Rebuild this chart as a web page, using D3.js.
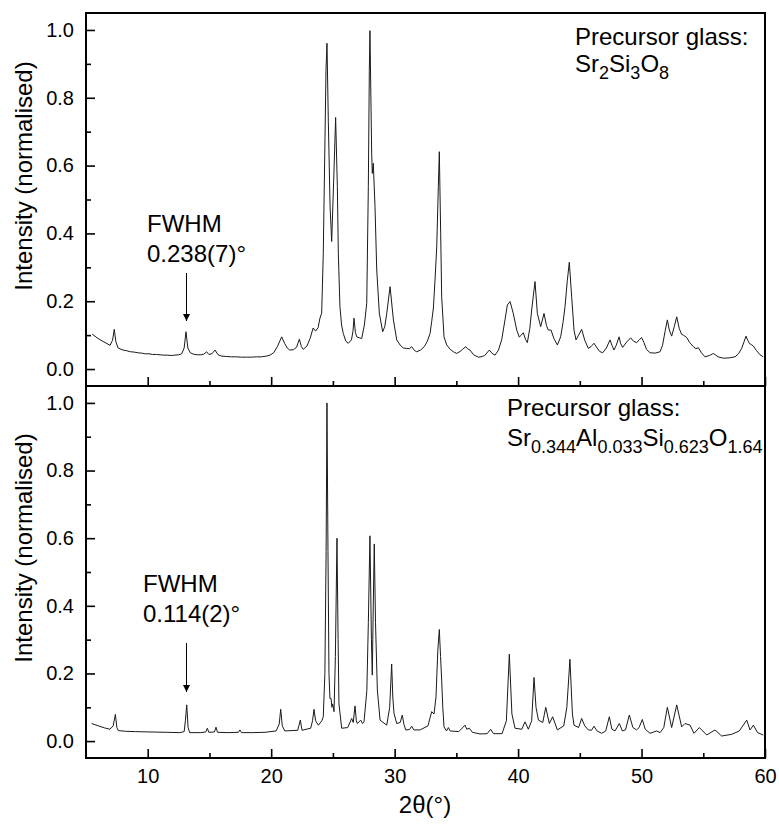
<!DOCTYPE html>
<html>
<head>
<meta charset="utf-8">
<script src="https://cdn.jsdelivr.net/npm/d3@7"></script>
<style>
  html, body { margin: 0; padding: 0; background: #fff; }
  svg { display: block; font-family: "Liberation Sans", Arial, sans-serif; }
</style>
</head>
<body>
<svg id="chart" width="779" height="830"></svg>
<script>
// Powder XRD patterns, [2θ (°), normalised intensity]
const sr2si3o8Pattern = [
  [5.5,0.103],[5.9,0.092],[6.3,0.083],[6.7,0.075],[6.95,0.070],[7.15,0.085],[7.29,0.117],[7.42,0.080],[7.6,0.062],
  [8.0,0.056],[8.3,0.054],[8.6,0.051],[8.9,0.050],[9.2,0.048],[9.5,0.047],[9.8,0.045],[10.1,0.045],[10.4,0.043],
  [10.7,0.043],[11.0,0.042],[11.3,0.041],[11.6,0.041],[11.9,0.040],[12.2,0.041],[12.5,0.042],[12.75,0.045],
  [12.95,0.062],[13.1,0.110],[13.25,0.062],[13.45,0.048],[13.7,0.044],[14.0,0.042],[14.3,0.042],[14.55,0.044],
  [14.77,0.051],[14.95,0.043],[15.2,0.045],[15.45,0.056],[15.7,0.042],[16.0,0.038],[16.4,0.037],[16.8,0.036],
  [17.2,0.036],[17.6,0.035],[18.0,0.035],[18.4,0.035],[18.8,0.036],[19.2,0.036],[19.6,0.038],[19.9,0.041],
  [20.2,0.048],[20.5,0.066],[20.85,0.095],[21.1,0.075],[21.3,0.062],[21.5,0.056],[21.8,0.057],[22.05,0.064],
  [22.28,0.088],[22.45,0.066],[22.6,0.058],[22.9,0.068],[23.15,0.090],[23.4,0.121],[23.6,0.112],[23.8,0.122],
  [23.95,0.150],[24.09,0.165],[24.22,0.34],[24.36,0.685],[24.44,0.88],[24.52,0.961],[24.63,0.73],[24.77,0.48],
  [24.9,0.376],[25.09,0.587],[25.22,0.742],[25.36,0.538],[25.44,0.34],[25.57,0.184],[25.7,0.130],[25.84,0.105],
  [26.05,0.082],[26.25,0.076],[26.5,0.086],[26.62,0.110],[26.71,0.150],[26.82,0.108],[26.93,0.095],
  [27.15,0.092],[27.33,0.090],[27.55,0.13],[27.74,0.194],[27.87,0.538],[27.95,0.88],[28.0,0.998],[28.14,0.637],
  [28.19,0.577],[28.27,0.607],[28.41,0.479],[28.55,0.292],[28.76,0.165],[29.03,0.110],[29.2,0.125],
  [29.36,0.164],[29.63,0.243],[29.9,0.145],[30.17,0.086],[30.44,0.071],[30.7,0.062],[30.95,0.061],[31.2,0.060],
  [31.38,0.066],[31.6,0.055],[31.79,0.051],[32.1,0.056],[32.4,0.066],[32.65,0.082],[32.87,0.105],[33.0,0.140],
  [33.14,0.180],[33.27,0.262],[33.41,0.36],[33.54,0.538],[33.62,0.641],[33.73,0.40],[33.81,0.213],[34.0,0.095],
  [34.22,0.071],[34.5,0.058],[34.76,0.051],[35.03,0.046],[35.3,0.052],[35.5,0.058],[35.76,0.066],[35.9,0.060],
  [36.1,0.056],[36.4,0.042],[36.78,0.035],[37.1,0.037],[37.3,0.040],[37.67,0.056],[37.9,0.046],[38.13,0.041],
  [38.4,0.055],[38.67,0.086],[38.94,0.145],[39.13,0.189],[39.35,0.199],[39.61,0.164],[39.89,0.115],
  [40.1,0.094],[40.25,0.100],[40.42,0.107],[40.6,0.088],[40.75,0.078],[40.95,0.120],[41.1,0.174],[41.37,0.258],
  [41.56,0.164],[41.83,0.125],[42.1,0.164],[42.3,0.128],[42.45,0.115],[42.67,0.115],[42.9,0.090],[43.18,0.071],
  [43.45,0.095],[43.65,0.140],[43.8,0.184],[43.99,0.262],[44.15,0.315],[44.34,0.213],[44.53,0.115],
  [44.69,0.086],[44.9,0.100],[45.15,0.117],[45.4,0.085],[45.69,0.061],[45.9,0.066],[46.15,0.076],[46.4,0.062],
  [46.6,0.052],[46.85,0.048],[47.15,0.062],[47.45,0.086],[47.6,0.070],[47.77,0.056],[47.95,0.070],[48.18,0.095],
  [48.3,0.076],[48.47,0.064],[48.8,0.080],[49.12,0.092],[49.35,0.082],[49.6,0.078],[49.8,0.085],[50.0,0.093],
  [50.2,0.078],[50.4,0.058],[50.69,0.048],[51.1,0.047],[51.5,0.051],[51.7,0.070],[51.9,0.110],[52.09,0.145],
  [52.25,0.115],[52.44,0.097],[52.65,0.125],[52.85,0.154],[53.05,0.120],[53.25,0.102],[53.39,0.100],
  [53.66,0.093],[53.9,0.078],[54.2,0.066],[54.4,0.060],[54.6,0.063],[54.85,0.048],[55.14,0.036],[55.5,0.040],
  [55.82,0.046],[56.2,0.036],[56.63,0.032],[57.1,0.033],[57.57,0.036],[57.85,0.045],[58.1,0.060],[58.3,0.080],
  [58.46,0.097],[58.6,0.085],[58.75,0.075],[58.9,0.072],[59.05,0.068],[59.3,0.055],[59.6,0.042],[59.86,0.036]
];

const srAlSiOPattern = [
  [5.46,0.052],[6.0,0.045],[6.5,0.039],[6.94,0.035],[7.2,0.045],[7.38,0.079],[7.5,0.040],[7.62,0.031],[8.2,0.029],
  [9.0,0.028],[10.18,0.027],[11.5,0.026],[12.6,0.025],[12.95,0.028],[13.05,0.06],[13.16,0.107],[13.27,0.04],
  [13.4,0.025],[14.3,0.025],[14.7,0.027],[14.83,0.038],[14.95,0.026],[15.4,0.027],[15.53,0.041],[15.65,0.026],
  [16.5,0.025],[17.35,0.026],[17.47,0.033],[17.6,0.025],[18.5,0.025],[19.5,0.026],[20.4,0.030],[20.65,0.05],
  [20.77,0.094],[20.9,0.045],[21.1,0.030],[22.15,0.032],[22.36,0.062],[22.5,0.032],[23.2,0.038],[23.35,0.06],
  [23.47,0.094],[23.6,0.06],[23.82,0.047],[24.1,0.060],[24.22,0.072],[24.35,0.20],[24.45,0.56],[24.52,1.0],
  [24.6,0.56],[24.68,0.20],[24.76,0.126],[24.85,0.126],[24.92,0.100],[24.98,0.11],[25.09,0.087],[25.2,0.25],
  [25.33,0.60],[25.42,0.30],[25.49,0.11],[25.71,0.038],[26.2,0.040],[26.52,0.067],[26.65,0.055],[26.79,0.104],
  [26.9,0.06],[26.98,0.052],[27.25,0.062],[27.4,0.052],[27.52,0.057],[27.75,0.15],[27.87,0.35],[28.0,0.607],
  [28.12,0.30],[28.19,0.195],[28.27,0.40],[28.35,0.583],[28.45,0.35],[28.6,0.151],[28.82,0.062],[29.36,0.047],
  [29.6,0.10],[29.76,0.228],[29.85,0.13],[29.95,0.082],[30.17,0.052],[30.45,0.055],[30.62,0.077],[30.75,0.05],
  [30.9,0.033],[31.2,0.034],[31.38,0.044],[31.55,0.033],[32.06,0.033],[32.7,0.045],[33.0,0.087],[33.19,0.080],
  [33.35,0.13],[33.5,0.27],[33.62,0.33],[33.72,0.25],[33.81,0.18],[33.9,0.10],[34.0,0.042],[34.2,0.030],
  [34.35,0.040],[34.5,0.030],[35.2,0.028],[35.7,0.047],[35.85,0.035],[36.05,0.038],[36.3,0.026],[36.92,0.021],
  [37.5,0.022],[37.78,0.035],[38.0,0.022],[38.7,0.022],[39.05,0.06],[39.29,0.257],[39.5,0.08],[39.75,0.038],
  [40.3,0.035],[40.56,0.057],[40.83,0.035],[41.1,0.06],[41.29,0.188],[41.45,0.10],[41.65,0.062],[42.0,0.055],
  [42.24,0.10],[42.53,0.052],[42.8,0.072],[43.18,0.033],[43.7,0.045],[43.95,0.10],[44.2,0.242],[44.4,0.08],
  [44.53,0.047],[44.9,0.040],[45.15,0.067],[45.4,0.045],[45.69,0.033],[45.95,0.032],[46.15,0.044],[46.4,0.030],
  [46.77,0.023],[47.1,0.030],[47.39,0.072],[47.6,0.035],[47.85,0.030],[48.2,0.052],[48.45,0.030],[48.7,0.033],
  [49.01,0.077],[49.3,0.040],[49.6,0.033],[49.8,0.040],[50.06,0.064],[50.3,0.035],[50.69,0.023],[51.23,0.030],
  [51.5,0.025],[51.8,0.040],[52.09,0.100],[52.44,0.040],[52.85,0.107],[53.25,0.042],[53.52,0.052],[53.93,0.047],
  [54.25,0.023],[54.68,0.040],[55.28,0.018],[55.95,0.033],[56.49,0.015],[57.3,0.020],[57.92,0.030],[58.52,0.062],
  [58.79,0.033],[59.06,0.047],[59.4,0.025],[59.86,0.018]
];

// Axis settings
const xDomain = [5, 60];
const yDomain = [-0.05, 1.05];
const xMajorTicks = [10, 20, 30, 40, 50, 60];
const xMinorTicks = [15, 25, 35, 45, 55];
const yMajorTicks = [0.0, 0.2, 0.4, 0.6, 0.8, 1.0];
const yMinorTicks = [0.1, 0.3, 0.5, 0.7, 0.9];

// Panel annotations
const fwhmPeak = 13.1;          // 2θ of the reflection used for the FWHM
const fwhmLabels = ["0.238(7)°", "0.114(2)°"];
const glassFormulas = [
  [["Sr", null], ["2", "sub"], ["Si", null], ["3", "sub"], ["O", null], ["8", "sub"]],
  [["Sr", null], ["0.344", "sub"], ["Al", null], ["0.033", "sub"], ["Si", null], ["0.623", "sub"], ["O", null], ["1.64", "sub"]]
];

const svg = d3.select("#chart");
const left = 86, right = 765;
const panels = [
  { data: sr2si3o8Pattern, top: 13, bottom: 386, labelX: false,
    fwhm: fwhmLabels[0], fwhmX: 147, fwhmY: 232, arrowTop: 273, arrowTip: 321,
    glassX: 575, glassY1: 45, glassY2: 72, formula: glassFormulas[0], titleY: 176 },
  { data: srAlSiOPattern, top: 386, bottom: 758, labelX: true,
    fwhm: fwhmLabels[1], fwhmX: 143, fwhmY: 592, arrowTop: 643, arrowTip: 692,
    glassX: 507, glassY1: 416, glassY2: 446, formula: glassFormulas[1], titleY: 548 }
];

const x = d3.scaleLinear().domain(xDomain).range([left, right]);

svg.append("defs").append("marker")
  .attr("id", "arrowhead")
  .attr("viewBox", "0 0 10 10")
  .attr("refX", 10).attr("refY", 5)
  .attr("markerUnits", "userSpaceOnUse")
  .attr("markerWidth", 12).attr("markerHeight", 7)
  .attr("orient", "auto")
  .append("path").attr("d", "M0,0 L10,5 L0,10 Z").attr("fill", "#000");

panels.forEach(p => {
  const y = d3.scaleLinear().domain(yDomain).range([p.bottom, p.top]);
  const g = svg.append("g");

  // diffraction pattern
  const line = d3.line().x(d => x(d[0])).y(d => y(d[1]));
  g.append("path")
    .datum(p.data)
    .attr("d", line)
    .attr("fill", "none")
    .attr("stroke", "#1a1a1a")
    .attr("stroke-width", 1)
    .attr("stroke-linejoin", "round");

  // y axis: inward ticks, labels outside
  g.append("g").attr("transform", `translate(${left},0)`)
    .call(d3.axisLeft(y).tickValues(yMajorTicks).tickFormat(d3.format(".1f"))
      .tickSizeInner(-9).tickSizeOuter(0).tickPadding(12));
  g.append("g").attr("transform", `translate(${left},0)`)
    .call(d3.axisLeft(y).tickValues(yMinorTicks).tickFormat("")
      .tickSizeInner(-5).tickSizeOuter(0));

  // x axis along the panel bottom
  g.append("g").attr("transform", `translate(0,${p.bottom})`)
    .call(d3.axisBottom(x).tickValues(xMajorTicks).tickFormat(p.labelX ? d3.format("d") : "")
      .tickSizeInner(-9).tickSizeOuter(0).tickPadding(11));
  g.append("g").attr("transform", `translate(0,${p.bottom})`)
    .call(d3.axisBottom(x).tickValues(xMinorTicks).tickFormat("")
      .tickSizeInner(-5).tickSizeOuter(0));

  g.selectAll(".domain").remove();
  g.selectAll(".tick line").attr("stroke", "#000").attr("stroke-width", 1.6);
  g.selectAll(".tick text").attr("font-size", 20).attr("fill", "#000")
    .attr("font-family", "'Liberation Sans', Arial, sans-serif");

  // frame
  g.append("rect")
    .attr("x", left).attr("y", p.top)
    .attr("width", right - left).attr("height", p.bottom - p.top)
    .attr("fill", "none").attr("stroke", "#000").attr("stroke-width", 2);

  // y-axis title
  g.append("text")
    .attr("transform", `translate(32,${p.titleY}) rotate(-90)`)
    .attr("text-anchor", "middle")
    .attr("font-size", 24)
    .text("Intensity (normalised)");

  // FWHM annotation with arrow to the peak
  g.append("text").attr("x", p.fwhmX).attr("y", p.fwhmY).attr("font-size", 24).text("FWHM");
  g.append("text").attr("x", p.fwhmX).attr("y", p.fwhmY + 30).attr("font-size", 24).text(p.fwhm);
  g.append("line")
    .attr("x1", x(fwhmPeak) + 0.5).attr("x2", x(fwhmPeak) + 0.5)
    .attr("y1", p.arrowTop).attr("y2", p.arrowTip)
    .attr("stroke", "#000").attr("stroke-width", 1)
    .attr("marker-end", "url(#arrowhead)");

  // precursor glass composition
  g.append("text").attr("x", p.glassX).attr("y", p.glassY1).attr("font-size", 24).text("Precursor glass:");
  const f = g.append("text").attr("x", p.glassX).attr("y", p.glassY2).attr("font-size", 24);
  let shifted = false;
  p.formula.forEach(([txt, kind]) => {
    const t = f.append("tspan").text(txt);
    if (kind === "sub" && !shifted) { t.attr("dy", 7).attr("font-size", 18); shifted = true; }
    else if (kind === "sub") { t.attr("font-size", 18); }
    else if (shifted) { t.attr("dy", -7); shifted = false; }
  });
});

// shared x-axis title
svg.append("text")
  .attr("x", 425).attr("y", 813)
  .attr("text-anchor", "middle")
  .attr("font-size", 24)
  .text("2θ(°)");
</script>
</body>
</html>
